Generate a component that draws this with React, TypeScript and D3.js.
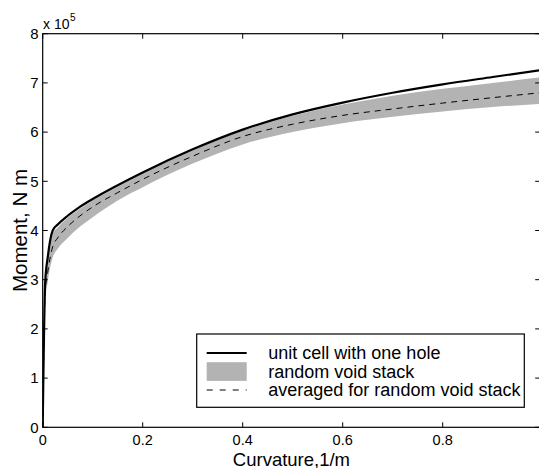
import React from "react";
import * as d3 from "d3";

const curvature = [0, 0.005, 0.01, 0.02, 0.03, 0.05, 0.07, 0.1, 0.15, 0.2, 0.3, 0.4, 0.5, 0.6, 0.7, 0.8, 0.9, 0.995];
const unitCell = [0, 2.95, 3.45, 4.0, 4.12, 4.3, 4.45, 4.64, 4.92, 5.18, 5.65, 6.05, 6.36, 6.6, 6.8, 6.97, 7.12, 7.26];
const bandTop = [0, 2.9, 3.37, 3.93, 4.06, 4.26, 4.41, 4.61, 4.89, 5.16, 5.63, 6.03, 6.33, 6.56, 6.74, 6.88, 7.0, 7.11];
const bandBottom = [0, 2.55, 2.95, 3.45, 3.63, 3.85, 4.04, 4.27, 4.61, 4.88, 5.36, 5.75, 6.0, 6.18, 6.31, 6.42, 6.51, 6.57];
const averaged = [0, 2.75, 3.15, 3.67, 3.85, 4.08, 4.26, 4.48, 4.77, 5.04, 5.51, 5.91, 6.16, 6.34, 6.47, 6.59, 6.7, 6.8];

const xTicks = [0, 0.2, 0.4, 0.6, 0.8];
const xTickLabels = ["0", "0.2", "0.4", "0.6", "0.8"];
const yTicks = [0, 1, 2, 3, 4, 5, 6, 7, 8];
const legendLabels = ["unit cell with one hole", "random void stack", "averaged for random void stack"];

const W = 539;
const H = 468;
const L = 42.7, R = 540.2, T = 33.7, B = 427.3;
const FONT = "'Liberation Sans', Arial, Helvetica, sans-serif";

export default function App() {
  const x = d3.scaleLinear().domain([0, 0.995]).range([L, R]);
  const y = d3.scaleLinear().domain([0, 8]).range([B, T]);
  const idx = curvature.map((_, i) => i);

  const line = (vals: number[]) =>
    d3.line<number>().x((i) => x(curvature[i])).y((i) => y(vals[i])).curve(d3.curveMonotoneX)(idx) || "";
  const area =
    d3.area<number>()
      .x((i) => x(curvature[i]))
      .y0((i) => y(bandBottom[i]))
      .y1((i) => y(bandTop[i]))
      .curve(d3.curveMonotoneX)(idx) || "";

  const lgX = 196.7, lgY = 334, lgW = 327.6, lgH = 73.3;
  const rows = [353, 371.5, 390];

  return (
    <svg width={W} height={H} style={{ position: "absolute", left: 0, top: 0, background: "#fff" }} fontFamily={FONT}>
      <defs>
        <clipPath id="plotclip">
          <rect x={L} y={T} width={R - L} height={B - T} />
        </clipPath>
      </defs>
      <rect x={0} y={0} width={W} height={H} fill="#fff" />
      <g clipPath="url(#plotclip)">
        <path d={area} fill="#b3b3b3" stroke="none" />
        <path d={line(averaged)} fill="none" stroke="#000" strokeWidth={1} strokeDasharray="6,5" />
        <path d={line(unitCell)} fill="none" stroke="#000" strokeWidth={2.2} />
      </g>
      {/* axes box */}
      <rect x={L} y={T} width={R - L} height={B - T} fill="none" stroke="#000" strokeWidth={1.2} />
      {/* x ticks */}
      {xTicks.map((t, i) => (
        <g key={"xt" + i}>
          <line x1={x(t)} x2={x(t)} y1={B} y2={B - 5} stroke="#000" strokeWidth={1} />
          <line x1={x(t)} x2={x(t)} y1={T} y2={T + 5} stroke="#000" strokeWidth={1} />
          <text x={x(t)} y={445} fontSize={14.5} textAnchor="middle" fill="#000">{xTickLabels[i]}</text>
        </g>
      ))}
      {/* y ticks */}
      {yTicks.map((t) => (
        <g key={"yt" + t}>
          <line x1={L} x2={L + 5} y1={y(t)} y2={y(t)} stroke="#000" strokeWidth={1} />
          <line x1={R} x2={R - 5} y1={y(t)} y2={y(t)} stroke="#000" strokeWidth={1} />
          <text x={38.5} y={y(t) + 5.3} fontSize={15} textAnchor="end" fill="#000">{t}</text>
        </g>
      ))}
      {/* exponent */}
      <text x={43} y={29} fontSize={14} fill="#000">x 10</text>
      <text x={70} y={21} fontSize={10} fill="#000">5</text>
      {/* axis labels */}
      <text x={(L + R) / 2} y={465.5} fontSize={18.5} textAnchor="middle" fill="#000">Curvature,1/m</text>
      <text transform={`translate(26.5,${(T + B) / 2}) rotate(-90)`} fontSize={20.5} textAnchor="middle" fill="#000">Moment, N m</text>
      {/* legend */}
      <rect x={lgX} y={lgY} width={lgW} height={lgH} fill="#fff" stroke="#000" strokeWidth={1.2} />
      <line x1={206.7} x2={246.7} y1={rows[0]} y2={rows[0]} stroke="#000" strokeWidth={2.2} />
      <rect x={206.7} y={rows[1] - 9.3} width={40} height={18.7} fill="#b3b3b3" />
      <line x1={206.7} x2={246.7} y1={rows[2]} y2={rows[2]} stroke="#000" strokeWidth={1} strokeDasharray="6,7" />
      {legendLabels.map((s, i) => (
        <text key={s} x={268.3} y={rows[i] + 6} fontSize={18} fill="#000">{s}</text>
      ))}
    </svg>
  );
}
